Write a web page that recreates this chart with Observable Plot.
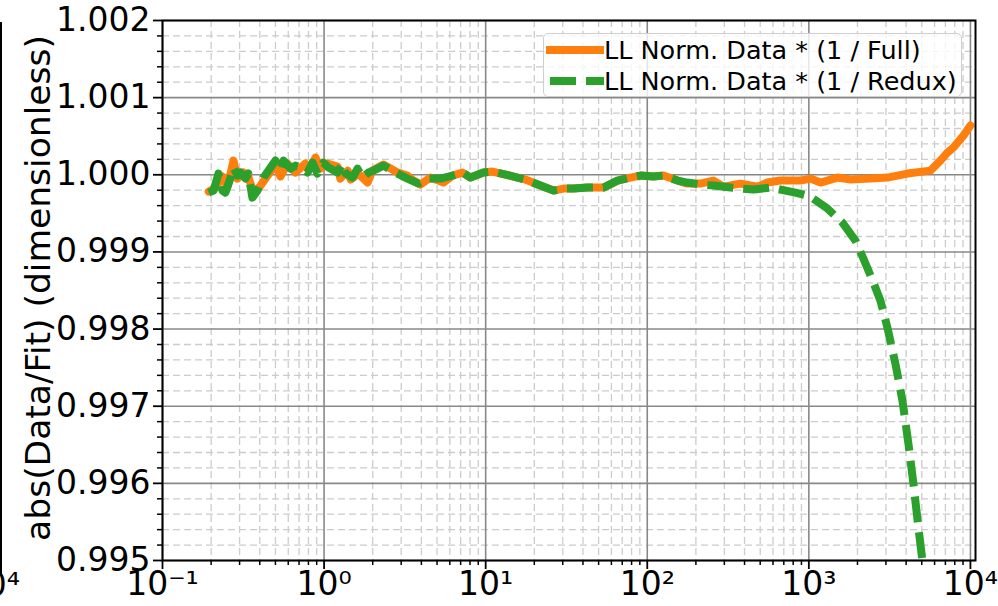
<!DOCTYPE html>
<html>
<head>
<meta charset="utf-8">
<script src="https://cdn.jsdelivr.net/npm/d3@7"></script>
<script src="https://cdn.jsdelivr.net/npm/@observablehq/plot@0.6"></script>
<style>
  html, body { margin: 0; padding: 0; background: #fff; }
  #wrap { position: relative; width: 998px; height: 606px; overflow: hidden; font-family: "DejaVu Sans", sans-serif; }
  #wrap svg { display: block; }
  #ylabel { position: absolute; left: 38px; top: 288px; transform: translate(-50%, -50%) rotate(-90deg); white-space: nowrap; font-size: 34.5px; line-height: 36px; color: #000; }
  #legend { position: absolute; left: 543px; top: 33px; width: 419px; height: 64px; box-sizing: border-box; border: 1.5px solid #cfcfcf; border-radius: 5px; background: rgba(255,255,255,0.8); font-size: 25.5px; }
  .row { position: absolute; left: 0; height: 32px; display: flex; align-items: center; white-space: nowrap; }
  #edgeTick { position: absolute; right: 978px; top: 566px; font-size: 33px; white-space: nowrap; line-height: 38px; }
  #edgeLine { position: absolute; left: 0; top: 22px; width: 2px; height: 552px; background: #000; }
</style>
</head>
<body>
<div id="wrap"></div>
<script>
// ---- data ----
const fullX = [0.193,0.213,0.235,0.253,0.275,0.291,0.317,0.340,0.366,0.404,0.500,0.537,0.594,0.665,0.767,0.801,0.885,0.950,1.05,1.21,1.26,1.40,1.46,1.63,1.86,1.99,2.33,2.85,3.28,3.58,3.95,4.55,5.48,6.23,7.19,8.05,9.69,11.0,14.9,17.6,21.8,26.3,30.3,34.9,42.7,53.6,65.4,78.7,90.8,109,126,154,177,213,257,296,377,481,554,667,887,1023,1180,1503,1809,2405,3065,4075,5655,6520,7207,7850,9050,10000];
const fullY = [0.999782,0.999834,0.999977,0.999847,1.000184,0.999951,1.000029,0.999977,0.999756,0.999860,1.000132,0.999977,1.000145,1.000029,1.000145,1.000054,1.000223,1.000080,1.000145,1.000106,0.999951,1.000054,0.999938,1.000016,0.999899,1.000054,1.000132,1.000029,0.999990,0.999925,0.999873,0.999964,0.999899,0.999990,1.000029,0.999964,1.000029,1.000042,0.999977,0.999938,0.999860,0.999795,0.999821,0.999821,0.999834,0.999834,0.999925,0.999964,0.999990,0.999977,0.999990,0.999925,0.999886,0.999886,0.999925,0.999847,0.999886,0.999847,0.999899,0.999925,0.999925,0.999951,0.999899,0.999964,0.999938,0.999951,0.999964,1.000016,1.000054,1.000184,1.000288,1.000353,1.000508,1.000638];

const reduxX = [0.193,0.207,0.222,0.235,0.245,0.264,0.275,0.291,0.304,0.326,0.340,0.360,0.387,0.422,0.500,0.537,0.561,0.620,0.665,0.735,0.790,0.848,0.910,0.99,1.065,1.21,1.30,1.36,1.50,1.61,1.73,1.88,2.02,2.33,2.77,3.28,3.84,4.36,5.25,6.23,7.19,8.05,9.69,11.0,14.9,17.6,21.8,26.3,30.3,34.9,42.7,53.6,65.4,78.7,90.8,109,126,154,177,213,257,327,454,579,826,1023,1304,1614,1943,2177,2511,2774,3065,3434,3796,4134,4439,4767,5047,5342];
const reduxY = [0.999769,0.999795,1.000016,0.999795,0.999769,0.999964,1.000093,0.999990,1.000029,0.999951,1.000016,0.999704,0.999795,0.999964,1.000184,1.000054,1.000184,1.000080,1.000119,1.000093,1.000029,1.000158,1.000016,1.000158,1.000093,1.000029,1.000145,1.000016,0.999964,1.000080,0.999964,1.000029,1.000054,1.000119,1.000029,0.999951,0.999886,0.999951,0.999951,0.999990,1.000029,0.999964,1.000029,1.000042,0.999977,0.999938,0.999860,0.999795,0.999821,0.999821,0.999834,0.999834,0.999925,0.999964,0.999990,0.999977,0.999990,0.999925,0.999899,0.999873,0.999860,0.999834,0.999808,0.999834,0.999769,0.999717,0.999562,0.999380,0.999147,0.998913,0.998602,0.998368,0.998018,0.997551,0.997071,0.996514,0.995995,0.995424,0.994996,0.994740];

const seriesNames = ["LL Norm. Data * (1 / Full)", "LL Norm. Data * (1 / Redux)"];
const seriesColors = ["#ff7f0e", "#2ca02c"];
const yLabel = "abs(Data/Fit) (dimensionless)";

const xMajor = [0.1, 1, 10, 100, 1000, 10000];
const xMajorLabels = ["10⁻¹", "10⁰", "10¹", "10²", "10³", "10⁴"];
const yMajor = [0.995, 0.996, 0.997, 0.998, 0.999, 1.000, 1.001, 1.002];
const yMajorLabels = ["0.995", "0.996", "0.997", "0.998", "0.999", "1.000", "1.001", "1.002"];

// minor tick positions
const xMinor = [];
for (const d of [0.1, 1, 10, 100, 1000]) for (let k = 2; k <= 9; k++) xMinor.push(+(d * k).toPrecision(3));
const yMinor = [];
for (let i = 0; i <= 35; i++) { if (i % 5 !== 0) yMinor.push(+(0.995 + i * 0.0002).toFixed(4)); }

const xLabelOf = new Map(xMajor.map((v, i) => [v, xMajorLabels[i]]));
const yLabelOf = new Map(yMajor.map((v, i) => [v, yMajorLabels[i]]));

const full = fullX.map((x, i) => ({x, y: fullY[i]}));
const redux = reduxX.map((x, i) => ({x, y: reduxY[i]}));

const chart = Plot.plot({
  width: 998,
  height: 606,
  marginLeft: 162,
  marginRight: 23,
  marginTop: 20,
  marginBottom: 46,
  style: { fontFamily: "DejaVu Sans", fontSize: "33px", color: "#000", background: "#fff", overflow: "visible" },
  x: { type: "log", domain: [0.1, 10750] },
  y: { domain: [0.995, 1.002] },
  marks: [
    Plot.gridX(xMinor, { stroke: "#cccccc", strokeOpacity: 1, strokeWidth: 1.3, strokeDasharray: "7,4" }),
    Plot.gridY(yMinor, { stroke: "#cccccc", strokeOpacity: 1, strokeWidth: 1.3, strokeDasharray: "7,4" }),
    Plot.gridX(xMajor, { stroke: "#888888", strokeOpacity: 1, strokeWidth: 1.6 }),
    Plot.gridY(yMajor, { stroke: "#888888", strokeOpacity: 1, strokeWidth: 1.6 }),
    Plot.line(full, { x: "x", y: "y", stroke: seriesColors[0], strokeWidth: 8, clip: true, curve: "linear" }),
    Plot.line(redux, { x: "x", y: "y", stroke: seriesColors[1], strokeWidth: 8, strokeDasharray: "26,10", strokeLinecap: "butt", clip: true, curve: "linear" }),
    Plot.frame({ stroke: "#000", strokeWidth: 2 }),
    Plot.axisX(xMinor, { tickSize: 5, text: null, strokeWidth: 1.5, label: null }),
    Plot.axisX(xMajor, { tickSize: 9, tickPadding: 2, strokeWidth: 1.8, text: (d) => xLabelOf.get(d), fontSize: 33, label: null }),
    Plot.axisY(yMinor, { tickSize: 5, text: null, strokeWidth: 1.5, label: null }),
    Plot.axisY(yMajor, { tickSize: 9, tickPadding: 3, strokeWidth: 1.8, text: (d) => yLabelOf.get(d), fontSize: 33, label: null })
  ]
});

const wrap = document.getElementById("wrap");
wrap.appendChild(chart);

const yl = document.createElement("div");
yl.id = "ylabel";
yl.textContent = yLabel;
wrap.appendChild(yl);

const edgeLine = document.createElement("div");
edgeLine.id = "edgeLine";
wrap.appendChild(edgeLine);
const edgeTick = document.createElement("div");
edgeTick.id = "edgeTick";
edgeTick.textContent = xMajorLabels[5];
wrap.appendChild(edgeTick);

const legend = document.createElement("div");
legend.id = "legend";
seriesNames.forEach((name, i) => {
  const row = document.createElement("div");
  row.className = "row";
  row.style.top = (i * 31) + "px";
  const dash = i === 1 ? 'stroke-dasharray="26,10" stroke-dashoffset="-4"' : "";
  row.innerHTML = `<svg width="60" height="32" style="flex:none"><line x1="2" x2="60" y1="16" y2="16" stroke="${seriesColors[i]}" stroke-width="8" ${dash}/></svg><span>${name}</span>`;
  legend.appendChild(row);
});
wrap.appendChild(legend);
</script>
</body>
</html>
